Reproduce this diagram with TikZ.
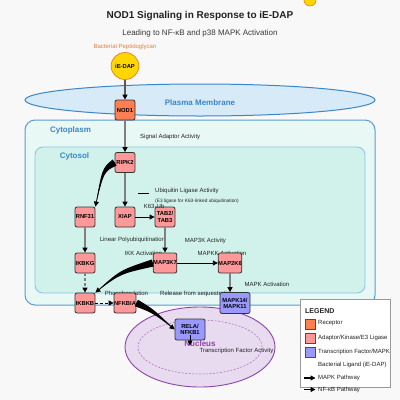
\documentclass[tikz,border=0pt]{standalone}
\usepackage{fontspec}
\setmainfont{Liberation Sans}
\usetikzlibrary{arrows.meta,calc,shapes.geometric}
\definecolor{bgc}{RGB}{248,248,248}
\definecolor{memfill}{RGB}{214,234,248}
\definecolor{memdraw}{RGB}{58,135,200}
\definecolor{cytofill}{RGB}{232,248,245}
\definecolor{cytodraw}{RGB}{91,155,213}
\definecolor{solfill}{RGB}{209,242,235}
\definecolor{soldraw}{RGB}{133,193,233}
\definecolor{receptor}{RGB}{255,127,80}
\definecolor{adaptor}{RGB}{255,153,153}
\definecolor{tfblue}{RGB}{153,153,255}
\definecolor{nucfill}{RGB}{232,218,239}
\definecolor{nucdraw}{RGB}{142,68,173}
\definecolor{ligand}{RGB}{255,215,0}
\definecolor{ligdraw}{RGB}{230,126,34}
\definecolor{orangetxt}{RGB}{230,126,58}
\definecolor{txt}{RGB}{34,34,34}
\definecolor{arrgray}{RGB}{128,128,128}
\newcommand{\taper}[4]{%
  \fill[black] ($(#1)!#4!90:(#2)$) .. controls ($(#2)!0.5*#4!-90:(#1)$) .. (#3)
     .. controls ($(#2)!0.5*#4!90:(#1)$) .. ($(#1)!#4!-90:(#2)$) -- cycle;
  \draw[black,line width=0.6pt,-{Triangle[length=5pt,width=5pt]}] (#1) .. controls (#2) .. (#3);}
\begin{document}
\begin{tikzpicture}[x=1pt,y=-1pt,
  pbox/.style={draw=black!80,line width=0.8pt,rounded corners=2pt,minimum width=20pt,minimum height=20pt,
     inner sep=0pt,font=\fontsize{5.8}{6.2}\selectfont\bfseries,text=black,align=center},
  rbox/.style={pbox,fill=receptor},
  abox/.style={pbox,fill=adaptor},
  tbox/.style={pbox,fill=tfblue,minimum width=30pt,minimum height=21pt},
  lbl/.style={font=\fontsize{6}{7}\selectfont,text=txt,inner sep=0pt},
  small/.style={font=\fontsize{4.8}{5.5}\selectfont,text=txt,inner sep=0pt},
  region/.style={font=\fontsize{8}{9}\selectfont\bfseries,text=memdraw,inner sep=0pt},
  garrow/.style={draw=arrgray,line width=1.2pt,-{Triangle[color=black,length=5pt,width=5pt]}},
  barrow/.style={draw=black,line width=0.9pt,-{Triangle[color=black,length=5pt,width=5pt]}},
  dsh/.style={dash pattern=on 3pt off 2pt},
  swatch/.style={draw=black!70,line width=0.6pt,minimum width=10pt,minimum height=10pt,inner sep=0pt}
]
\useasboundingbox (0,0) rectangle (400,400);
\fill[bgc] (0,0) rectangle (400,400);

% compartments
\draw[fill=memfill,draw=memdraw,line width=1pt] (200,100) ellipse [x radius=175pt,y radius=16pt];
\node[region] (pmlbl) at (200,103) {Plasma Membrane};
\draw[fill=cytofill,draw=cytodraw,line width=1pt,rounded corners=10pt] (25,120) rectangle (375,305);
\draw[fill=solfill,draw=soldraw,line width=0.8pt,rounded corners=8pt] (35,147) rectangle (365,293);
\node[region] (cplbl) at (70.5,130) {Cytoplasm};
\node[region] (cslbl) at (74.5,156.5) {Cytosol};
\draw[fill=nucfill,draw=nucdraw,line width=0.9pt] (200,347) ellipse [x radius=75pt,y radius=40pt];
\draw[draw=nucdraw!80,line width=0.5pt,dash pattern=on 2pt off 1.5pt] (200,347) ellipse [x radius=62pt,y radius=27pt];

% titles
\node[font=\fontsize{10}{12}\selectfont\bfseries,text=txt,inner sep=0pt] (title) at (200,16) {NOD1 Signaling in Response to iE-DAP};
\node[font=\fontsize{8}{10}\selectfont,text=txt!90,inner sep=0pt] (subtitle) at (200,33) {Leading to NF-κB and p38 MAPK Activation};
\node[lbl,text=orangetxt] (baclbl) at (125,47) {Bacterial Peptidoglycan};
\node[draw=ligdraw,fill=ligand,circle,minimum size=12pt,inner sep=0pt,line width=0.6pt] (topcirc) at (310,0) {};

% labels
\node[lbl,anchor=west] (l1) at (140,137) {Signal Adaptor Activity};
\coordinate (ub1) at (138,193);
\coordinate (ub2) at (149,193);
\draw[black,line width=0.6pt] (ub1) -- (ub2);
\node[lbl,anchor=west] (l2) at (155,190.5) {Ubiquitin Ligase Activity};
\node[small,anchor=west] (l3) at (155,201.5) {(E3 ligase for K63-linked ubiquitination)};
\node[lbl] (l5) at (132.5,240) {Linear Polyubiquitination};
\node[lbl] (l6) at (205.5,241) {MAP3K Activity};
\node[lbl] (l7) at (143.5,253.5) {IKK Activation};
\node[lbl] (l8) at (222,253.5) {MAPKK Activation};
\node[lbl] (l9) at (267,284) {MAPK Activation};
\node[lbl] (l10) at (126.5,294) {Phosphorylation};
\node[lbl,anchor=west] (l11) at (160,294) {Release from sequestration};
\node[font=\fontsize{8}{9}\selectfont\bfseries,text=nucdraw,inner sep=0pt] (nuclbl) at (200,343.5) {Nucleus};
\node[lbl] (l12) at (236.5,351) {Transcription Factor Activity};

% nodes
\node[ellipse,draw=ligdraw,fill=ligand,line width=0.7pt,minimum width=22pt,minimum height=27pt,inner sep=0pt,
      font=\fontsize{5.8}{6.2}\selectfont\bfseries] (IEDAP) at (125,66) {iE-DAP};
\node[rbox] (NOD1) at (125,110) {NOD1};
\node[abox] (RIPK2) at (125,162.5) {RIPK2};
\node[abox] (RNF31) at (85,217) {RNF31};
\node[abox] (XIAP) at (125,217) {XIAP};
\node[abox] (TAB) at (165,217) {TAB2/\\TAB3};
\node[abox] (IKBKG) at (85,263) {IKBKG};
\node[abox] (MAP3K7) at (165,263) {MAP3K7};
\node[abox] (MAP2K6) at (230,263) {MAP2K6};
\node[abox] (IKBKB) at (85,303) {IKBKB};
\node[abox] (NFKBIA) at (125,303) {NFKBIA};
\node[tbox] (MAPK) at (235,303) {MAPK14/\\MAPK11};
\node[tbox] (RELA) at (190,329.5) {RELA/\\NFKB1};
\node[lbl] (l4) at (154,206) {K63-Ub};

% connectors
\draw[garrow,draw=black!65] (IEDAP) -- (NOD1);
\draw[garrow] (NOD1) -- (RIPK2);
\draw[garrow] (RIPK2) -- (XIAP);
\draw[barrow] (XIAP) -- (TAB);
\draw[garrow] (TAB) -- (MAP3K7);
\draw[garrow] (RNF31) -- (IKBKG);
\draw[garrow,dsh] (IKBKG) -- (IKBKB);
\draw[barrow] (MAP3K7) -- (MAP2K6);
\draw[barrow,dsh] (IKBKB) -- (NFKBIA);
\draw[garrow] (MAP2K6.south) -- (MAP2K6.south |- MAPK.north);
\coordinate (c1) at (103,170);
\taper{RIPK2.west}{c1}{RNF31.north east}{3.6pt}
\coordinate (c2) at (120,272);
\taper{MAP3K7.west}{c2}{IKBKB.north east}{3.6pt}
\coordinate (c3) at (153,311);
\taper{NFKBIA.east}{c3}{RELA.west}{3.6pt}
\coordinate (nucc) at (190,345.5);
\draw[barrow] ($(RELA.south)+(0,-5)$) -- (nucc);

% legend
\draw[fill=white,draw=black!40,line width=0.8pt] (300,299) rectangle (390,387);
\node[font=\fontsize{7}{8}\selectfont\bfseries,text=txt,inner sep=0pt,anchor=west] (legt) at (305,311) {LEGEND};
\node[swatch,fill=receptor] (s1) at (310,324) {};
\node[lbl,anchor=west] (t1) at (318,323.5) {Receptor};
\node[swatch,fill=adaptor] (s2) at (310,338) {};
\node[lbl,anchor=west] (t2) at (318,337.5) {Adaptor/Kinase/E3 Ligase};
\node[swatch,fill=tfblue] (s3) at (310,352) {};
\node[lbl,anchor=west] (t3) at (318,351.5) {Transcription Factor/MAPK};
\node[lbl,anchor=west] (t4) at (318,364.5) {Bacterial Ligand (iE-DAP)};
\coordinate (a1s) at (304,378);
\coordinate (a1e) at (315.5,378);
\draw[barrow,line width=1.1pt] (a1s) -- (a1e);
\node[lbl,anchor=west] (t5) at (318,378) {MAPK Pathway};
\coordinate (a2s) at (304,389.5);
\coordinate (a2e) at (315.5,389.5);
\draw[barrow,line width=1.1pt] (a2s) -- (a2e);
\node[lbl,anchor=west] (t6) at (318,390) {NF-κB Pathway};
\end{tikzpicture}
\end{document}
